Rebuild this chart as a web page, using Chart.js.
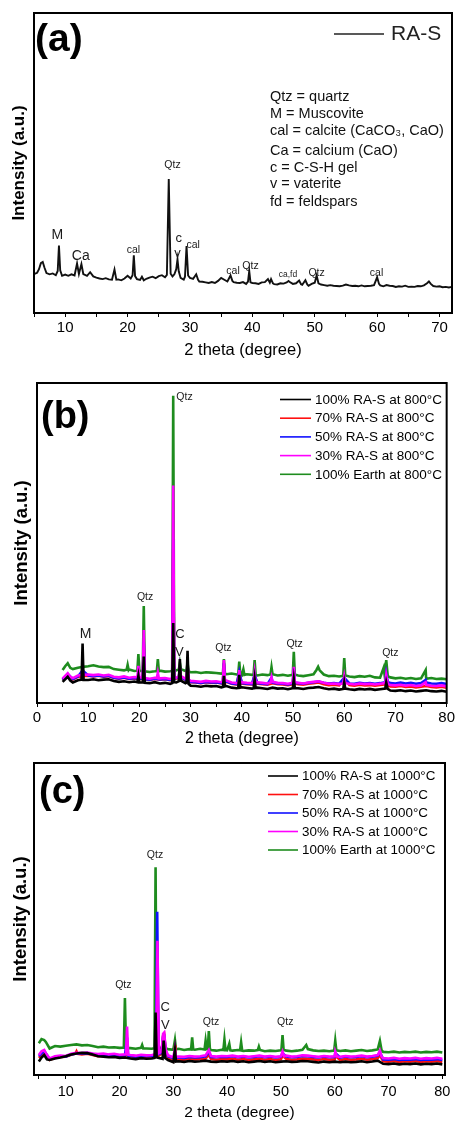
<!DOCTYPE html>
<html><head><meta charset="utf-8">
<script src="https://cdn.jsdelivr.net/npm/chart.js@4.4.1/dist/chart.umd.min.js"></script>
<style>
html,body{margin:0;padding:0;background:#fff;width:457px;height:1122px;overflow:hidden;}
canvas{position:absolute;left:0;}
</style></head><body>
<canvas id="ca" width="457" height="365" style="top:0px"></canvas>
<canvas id="cb" width="457" height="380" style="top:370px"></canvas>
<canvas id="cc" width="457" height="372" style="top:750px"></canvas>
<script>
// ---------------- DATA ----------------
const xTicksA = [5,10,15,20,25,30,35,40,45,50,55,60,65,70];
const xLabelsA = [10,20,30,40,50,60,70];
const xTicksB = [0,5,10,15,20,25,30,35,40,45,50,55,60,65,70,75,80];
const xLabelsB = [0,10,20,30,40,50,60,70,80];
const xTicksC = [5,10,15,20,25,30,35,40,45,50,55,60,65,70,75,80];
const xLabelsC = [10,20,30,40,50,60,70,80];

const legendA = ['RA-S'];
const legendB = ['100% RA-S at 800°C','70% RA-S at 800°C','50% RA-S at 800°C','30% RA-S at 800°C','100% Earth at 800°C'];
const legendC = ['100% RA-S at 1000°C','70% RA-S at 1000°C','50% RA-S at 1000°C','30% RA-S at 1000°C','100% Earth at 1000°C'];

const notesA = ['Qtz = quartz','M = Muscovite','cal = calcite (CaCO\u2083, CaO)','Ca = calcium (CaO)','c = C-S-H gel','v = vaterite','fd = feldspars'];

// peak labels: [text, 2theta, intensity]
const peaksA = [['M',8.74,26],['Ca',12.5,18.8],['cal',20.94,20.8],['Qtz',27.2,49.3],['c',28.2,24.7],['v',28.0,19.9],['cal',30.5,22.7],['cal',36.9,13.8],['Qtz',39.7,15.7],['ca,fd',45.7,12.9],['Qtz',50.3,13.4],['cal',59.9,13.4]];
const peaksB = [['Qtz',28.8,95.5],['Qtz',21.1,33],['M',9.5,21.6],['C',27.9,21.3],['V',27.8,15.8],['Qtz',36.4,17.1],['Qtz',50.3,18.4],['Qtz',69.0,15.7]];
const peaksC = [['Qtz',26.6,70.5],['Qtz',20.7,28.8],['C',28.5,21.6],['V',28.5,16.0],['Qtz',37.0,17.1],['Qtz',50.8,16.9]];

// (a) RA-S  [2theta, intensity]
const rasA = [[5,13.0],[5.5,13.4],[5.8,14.6],[6.1,16.6],[6.4,17.0],[6.7,15.0],[7,13.3],[7.5,12.9],[8,13.2],[8.5,12.6],[8.8,14.0],[9,22.5],[9.2,14.2],[9.5,12.4],[10,12.8],[10.5,12.4],[11,12.9],[11.5,12.5],[11.9,16.5],[12.2,13.0],[12.6,16.3],[12.9,13.0],[13.5,12.4],[14,13.6],[14.5,12.2],[15,11.8],[15.5,11.5],[16,11.3],[16.5,11.6],[17,11.2],[17.5,11.1],[17.9,14.5],[18.2,11.1],[18.5,11.2],[19,10.9],[19.5,11.5],[20,12.4],[20.5,11.5],[20.8,12.6],[21,19.2],[21.2,12.3],[21.5,11.3],[22,11.0],[22.3,12.1],[22.6,10.9],[23,11.4],[23.5,11.8],[24,12.1],[24.5,11.6],[25,12.3],[25.5,12.6],[26,11.9],[26.3,12.7],[26.6,44.7],[26.9,13.1],[27.2,12.2],[27.5,12.9],[27.8,14.6],[28,17.9],[28.2,13.9],[28.5,11.7],[29,11.1],[29.2,12.1],[29.45,22.3],[29.7,12.5],[30,11.7],[30.5,11.4],[31,12.9],[31.3,11.1],[31.5,10.5],[32,10.4],[32.5,10.2],[33,10.0],[33.5,10.3],[34,10.0],[34.5,10.7],[35,11.7],[35.5,11.1],[36,10.5],[36.5,12.5],[36.8,10.7],[37,10.3],[37.5,10.1],[38,10.0],[38.5,10.3],[39,9.7],[39.3,10.5],[39.5,14.0],[39.7,10.2],[40,10.0],[40.5,9.9],[41,9.7],[41.5,10.2],[42,10.3],[42.5,11.3],[42.8,10.1],[43,11.3],[43.3,9.9],[43.5,9.6],[44,9.5],[44.5,9.9],[45,9.8],[45.5,10.2],[45.8,10.7],[46,10.3],[46.5,9.7],[47,9.9],[47.5,10.8],[47.8,9.6],[48,9.4],[48.5,10.9],[48.8,9.5],[49,9.1],[49.5,9.7],[50,10.1],[50.3,12.5],[50.6,9.9],[51,9.5],[51.5,9.3],[52,9.1],[52.5,9.3],[53,9.1],[53.5,9.0],[54,8.9],[54.5,9.1],[55,9.5],[55.5,9.2],[56,9.0],[56.5,9.1],[57,8.9],[57.5,9.2],[58,8.9],[58.5,9.0],[59,9.1],[59.5,9.3],[60,11.9],[60.3,9.7],[60.5,9.2],[61,8.9],[61.5,9.3],[62,9.1],[62.5,9.0],[63,8.7],[63.5,8.9],[64,8.8],[64.5,9.1],[65,8.7],[65.5,8.8],[66,8.7],[66.5,9.0],[67,8.9],[67.5,9.2],[68,9.9],[68.3,10.5],[68.6,9.7],[69,9.0],[69.5,8.8],[70,8.9],[70.5,8.6],[71,8.7],[71.5,8.5],[72,8.7]];

// (b) 800 C
const ras100B = [[5,6.6],[5.5,7.4],[6,8.2],[6.5,7.0],[7,6.4],[8,7.1],[8.7,7.3],[8.9,18.6],[9.1,7.2],[10,7.2],[11,7.4],[12,7.1],[13,7.3],[14,7.4],[15,6.9],[16,6.6],[17,6.8],[18,6.5],[19,6.7],[19.6,6.5],[19.8,8.5],[20,6.4],[20.65,6.4],[20.85,14.5],[21.05,6.3],[22,6.2],[23,6.5],[24,6.1],[25,6.3],[26,6.0],[26.4,6.2],[26.6,25],[26.8,6.5],[27.2,6.4],[27.7,6.8],[27.9,13.7],[28.1,7.0],[29,6.2],[29.2,6.4],[29.4,16.3],[29.6,6.0],[30,5.4],[31,5.3],[32,5.1],[33,5.4],[34,5.2],[35,5.3],[36,4.9],[36.3,5.0],[36.5,8.5],[36.7,5.2],[37,5.3],[38,4.8],[39,4.6],[39.3,4.7],[39.5,8.8],[39.7,4.8],[40,4.9],[41,4.7],[42,4.5],[42.3,4.6],[42.5,7.5],[42.7,4.7],[43,4.8],[44,4.6],[45,4.4],[46,4.8],[47,4.5],[48,4.6],[49,4.3],[49.95,4.6],[50.15,7.5],[50.35,4.7],[51,4.6],[52,4.4],[53,4.7],[54,4.8],[55,5.0],[56,4.6],[57,4.3],[58,4.5],[59,4.2],[59.8,4.4],[60,6.5],[60.2,4.5],[61,4.3],[62,4.1],[63,4.4],[64,4.2],[65,4.4],[66,4.1],[67,4.3],[68,4.5],[68.2,6.5],[68.5,4.4],[69,3.9],[70,3.8],[71,4.0],[72,3.7],[73,3.9],[74,3.6],[75,3.8],[76,4.0],[77,3.7],[78,3.6],[79,3.8],[80,3.5]];
const ras70B = [[5,7.2],[6,8.9],[7,7.4],[8,8.2],[8.7,8.3],[8.9,10],[9.1,8.4],[10,8.5],[11,8.3],[12,8.5],[13,8.2],[14,8.4],[15,7.8],[16,7.6],[17,7.9],[18,7.5],[19,7.7],[20,7.6],[20.65,7.5],[20.85,18],[21.05,7.4],[22,7.2],[23,7.5],[24,7.3],[25,7.4],[26,7.1],[26.4,7.3],[26.6,48],[26.8,7.6],[27.7,7.8],[27.9,10.5],[28.1,8.0],[29,7.2],[29.2,7.4],[29.4,11.5],[29.6,7.0],[30,6.5],[31,6.4],[32,6.2],[33,6.5],[34,6.3],[35,6.4],[36,6.1],[36.3,6.4],[36.5,12],[36.7,6.5],[37,6.6],[38,6.0],[39,5.8],[39.5,9.5],[40,6.1],[41,5.9],[42,5.8],[42.5,8.6],[43,6.1],[44,5.9],[45,5.7],[46,6.2],[47,5.9],[48,5.8],[49,5.6],[49.95,5.9],[50.15,10.4],[50.35,6.1],[51,5.9],[52,5.7],[53,6.0],[54,6.2],[55,6.4],[56,5.9],[57,5.6],[58,5.7],[59,5.5],[60,7.6],[61,5.6],[62,5.4],[63,5.7],[64,5.5],[65,5.6],[66,5.4],[67,5.6],[68,5.8],[68.2,8.2],[68.5,5.6],[69,5.2],[70,5.1],[71,5.3],[72,5.0],[73,5.2],[74,4.9],[75,5.1],[76,5.3],[77,5.0],[78,4.9],[79,5.1],[80,4.8]];
const ras50B = [[5,7.3],[6,9.0],[7,7.5],[8,8.3],[8.9,10.2],[10,8.6],[11,8.4],[12,8.6],[13,8.3],[14,8.5],[15,7.9],[16,7.7],[17,8.0],[18,7.6],[19,7.8],[20,7.7],[20.65,7.6],[20.85,19],[21.05,7.5],[22,7.3],[23,7.6],[24,7.4],[25,7.5],[26,7.2],[26.4,7.4],[26.6,51],[26.8,7.7],[27.7,7.9],[27.9,10.8],[28.1,8.1],[29,7.3],[29.2,7.5],[29.4,11.8],[29.6,7.1],[30,6.6],[31,6.5],[32,6.3],[33,6.6],[34,6.4],[35,6.5],[36,6.2],[36.3,6.5],[36.5,12.5],[36.7,6.6],[37,6.7],[38,6.1],[39,5.9],[39.5,9.8],[40,6.2],[41,6.0],[42,5.9],[42.5,9.0],[43,6.2],[44,6.0],[45,5.9],[45.8,7.9],[46,6.4],[47,6.1],[48,6.0],[49,5.8],[49.95,6.1],[50.15,10.8],[50.35,6.3],[51,6.2],[52,6.0],[53,6.3],[54,6.5],[55,6.7],[56,6.3],[57,6.1],[58,6.2],[59,6.0],[60,7.9],[61,6.1],[62,6.0],[63,6.3],[64,6.1],[65,6.2],[66,6.0],[67,6.2],[68,6.5],[68.2,9.2],[68.5,6.6],[69,6.2],[70,6.1],[71,6.4],[72,6.1],[73,6.3],[74,6.0],[75,6.2],[75.9,7.2],[76,6.4],[77,6.1],[78,6.0],[79,6.2],[80,5.9]];
const ras30B = [[5,7.6],[5.5,8.5],[6,9.3],[6.5,8.2],[7,7.8],[8,8.6],[8.7,8.7],[8.9,10.5],[9.1,8.8],[10,8.9],[11,8.7],[12,8.9],[13,8.6],[14,8.8],[15,8.2],[16,8.0],[17,8.3],[18,7.9],[19,8.1],[19.6,8.0],[19.8,11.6],[20,8.0],[20.65,7.9],[20.85,22.8],[21.05,7.8],[22,7.6],[23,7.9],[23.4,7.8],[23.6,9.5],[23.8,7.7],[24,7.7],[25,7.8],[26,7.5],[26.4,7.7],[26.6,68],[26.8,8.0],[27.2,7.9],[27.7,8.2],[27.9,11],[28.1,8.4],[29,7.6],[29.2,7.8],[29.4,12],[29.6,7.4],[30,6.9],[31,6.8],[32,6.6],[33,6.9],[34,6.7],[35,6.8],[36,6.5],[36.3,6.8],[36.5,13.4],[36.7,6.9],[37,7.0],[38,6.4],[39,6.2],[39.3,6.4],[39.5,10.3],[39.7,6.4],[40,6.5],[41,6.3],[42,6.2],[42.3,6.3],[42.5,9.3],[42.7,6.4],[43,6.5],[44,6.3],[45,6.1],[45.6,6.4],[45.8,8.0],[46,6.6],[47,6.3],[48,6.2],[49,6.0],[49.95,6.3],[50.15,11.3],[50.35,6.5],[51,6.3],[52,6.1],[53,6.4],[54,6.6],[55,6.8],[56,6.3],[57,6.0],[58,6.1],[59,5.9],[59.8,6.1],[60,8.2],[60.2,6.2],[61,6.0],[62,5.8],[63,6.1],[64,5.9],[65,6.0],[66,5.8],[67,6.0],[68,6.2],[68.2,8.75],[68.5,6.0],[69,5.6],[70,5.5],[71,5.7],[72,5.4],[73,5.6],[74,5.3],[75,5.5],[75.9,6.5],[76,5.7],[77,5.4],[78,5.3],[79,5.5],[80,5.2]];
const earthB = [[5,10.3],[5.5,11.5],[6,12.4],[6.5,11.0],[7,10.6],[8,11.0],[9,11.3],[10,11.5],[11,11.8],[12,11.4],[13,11.2],[14,11.3],[15,10.6],[16,10.4],[17,10.2],[17.5,10.4],[17.7,11.9],[17.9,10.3],[18,10.5],[19,10.0],[19.6,10.1],[19.8,15.3],[20,10.0],[20.65,10.0],[20.85,30.3],[21.05,9.9],[22,9.7],[23,9.9],[23.4,10.0],[23.6,13.7],[23.8,9.9],[24,10.1],[25,9.8],[26,9.9],[26.4,10.0],[26.6,96],[26.8,10.4],[27.2,10.2],[27.7,10.5],[27.9,12.5],[28.1,10.6],[29,10.0],[29.2,10.2],[29.4,12.5],[29.6,9.9],[30,9.6],[31,9.7],[32,9.4],[33,9.6],[34,9.5],[35,9.4],[36,9.2],[36.3,9.3],[36.5,13.7],[36.7,9.2],[37,9.0],[38,9.2],[39,8.9],[39.3,9.0],[39.5,12.9],[39.7,9.0],[40,8.7],[40.3,10.5],[40.5,8.8],[41,9.0],[42,8.8],[42.3,8.9],[42.5,13.4],[42.7,8.8],[43,8.6],[44,8.9],[45,8.7],[45.6,8.9],[45.8,11.2],[46,9.0],[47,8.6],[48,8.8],[49,8.5],[49.95,8.8],[50.15,16],[50.35,8.9],[51,8.6],[52,8.4],[53,8.7],[54,9.0],[54.6,10.4],[54.9,11.3],[55.2,10.2],[56,8.9],[57,8.4],[58,8.5],[59,8.3],[59.8,8.5],[60,14],[60.2,8.6],[61,8.3],[62,8.1],[63,8.4],[64,8.2],[65,8.5],[66,8.0],[67,7.9],[67.7,11.0],[67.9,8.6],[68.2,13.4],[68.5,8.4],[69,8.0],[70,7.7],[71,7.9],[72,7.6],[73,7.8],[74,7.5],[75,7.7],[75.9,10.3],[76,7.6],[77,7.8],[78,7.5],[79,7.6],[80,7.4]];

// (c) 1000 C
const ras100C = [[5,4.3],[5.5,5.6],[6,6.4],[6.5,5.0],[7,4.8],[8,5.3],[9,5.6],[10,6.0],[11,6.6],[12,6.9],[13,7.1],[14,7.0],[15,6.6],[16,6.0],[17,5.9],[18,5.7],[19,5.8],[20,5.5],[21,5.6],[22,5.3],[23,5.1],[24,5.4],[25,5.2],[26,5.3],[26.5,5.5],[26.7,20],[26.9,5.7],[27,5.6],[28,5.2],[28.2,11],[28.5,5.4],[29,4.8],[30,4.1],[30.3,8],[30.5,4.3],[31,4.4],[32,4.2],[33,4.5],[34,4.3],[35,4.4],[36,4.6],[37,4.3],[38,4.2],[39,4.4],[40,4.3],[41,4.5],[42,4.2],[43,4.4],[44,4.1],[45,4.3],[46,4.5],[47,4.2],[48,4.4],[49,4.1],[50,4.3],[51,4.4],[52,4.2],[53,4.3],[54,4.5],[55,4.4],[56,4.2],[57,4.0],[58,4.3],[59,4.1],[60,4.3],[61,4.1],[62,4.3],[63,4.1],[64,4.2],[65,4.4],[66,4.1],[67,4.3],[68,4.6],[69,3.6],[70,3.5],[71,3.7],[72,3.4],[73,3.6],[74,3.5],[75,3.7],[76,3.4],[77,3.6],[78,3.5],[79,3.7],[80,3.4]];
const ras70C = [[5,5.5],[6,7.2],[7,4.8],[8,5.5],[9,5.8],[10,5.9],[11,6.5],[11.8,6.9],[12,7.6],[12.2,6.8],[13,6.6],[14,6.8],[15,6.4],[16,6.0],[17,6.2],[18,5.9],[19,6.0],[20,5.7],[21,5.8],[21.4,9.0],[21.6,5.7],[22,5.6],[23,5.4],[24,5.7],[25,5.5],[26,5.6],[26.8,5.8],[27.0,35],[27.25,6.2],[27.8,6.8],[28.1,12.6],[28.3,13.0],[28.6,7.4],[29,5.4],[30,4.3],[30.2,5.0],[30.35,9.6],[30.5,4.8],[31,5.0],[32,4.9],[33,5.2],[34,5.0],[35,5.1],[36,5.3],[36.6,6.5],[37,5.1],[38,4.9],[39,5.1],[40,5.0],[41,5.2],[42,4.9],[43,5.1],[44,4.8],[45,5.0],[46,5.2],[47,4.9],[48,5.1],[49,4.8],[50,5.0],[50.3,6.2],[51,5.1],[52,4.9],[53,5.0],[54,5.3],[55,5.2],[56,5.0],[57,4.8],[58,5.1],[59,4.9],[60,5.0],[60.1,6.2],[61,4.8],[62,5.1],[63,4.9],[64,5.0],[65,5.2],[66,4.9],[67,5.1],[68,5.4],[68.4,6.4],[69,4.4],[70,4.3],[71,4.5],[72,4.2],[73,4.4],[74,4.3],[75,4.5],[76,4.2],[77,4.4],[78,4.3],[79,4.5],[80,4.2]];
const ras50C = [[5,6.1],[6,7.7],[7,5.1],[8,5.8],[9,6.0],[10,5.9],[11,6.6],[12,6.9],[13,6.8],[14,7.0],[15,6.7],[16,6.4],[17,6.6],[18,6.3],[19,6.5],[20,6.2],[21,6.3],[21.4,12.0],[21.6,6.2],[22,6.1],[23,5.9],[24,6.2],[25,6.0],[26,6.1],[26.75,6.3],[27.0,52.3],[27.25,6.7],[27.8,7.1],[28.1,12.3],[28.3,12.5],[28.6,7.6],[29,6.0],[30,5.4],[31,5.6],[32,5.5],[33,5.8],[34,5.6],[35,5.7],[36,6.0],[36.6,7.5],[37,5.8],[38,5.7],[39,5.9],[40,5.8],[41,6.0],[42,5.7],[43,5.9],[44,5.6],[45,5.8],[46,6.0],[47,5.7],[48,5.9],[49,5.6],[50,5.8],[50.3,7.0],[51,5.9],[52,5.7],[53,5.8],[54,6.1],[55,6.0],[56,5.8],[57,5.6],[58,5.9],[59,5.7],[60,5.8],[60.1,7.0],[61,5.6],[62,5.9],[63,5.7],[64,5.8],[65,6.0],[66,5.7],[67,5.9],[68,6.2],[68.4,7.3],[69,5.0],[70,4.9],[71,5.1],[72,4.8],[73,5.0],[74,4.9],[75,5.1],[76,4.8],[77,5.0],[78,4.9],[79,5.1],[80,4.8]];
const ras30C = [[5,6.4],[5.5,7.6],[6,8.0],[6.3,7.0],[7,5.3],[8,6.0],[9,6.2],[10,6.1],[11,6.8],[12,7.1],[13,7.0],[14,7.2],[15,6.9],[16,6.7],[17,6.9],[18,6.6],[19,6.8],[20,6.5],[21,6.6],[21.2,6.7],[21.4,15.5],[21.6,6.5],[22,6.4],[23,6.2],[24,6.5],[25,6.3],[26,6.4],[26.8,6.6],[27.05,43],[27.3,7.0],[27.8,7.4],[28.1,13.2],[28.3,13.6],[28.6,8.0],[29,6.3],[30,5.7],[30.3,8.5],[30.5,5.8],[31,5.9],[32,5.8],[33,6.1],[34,5.9],[35,6.0],[36,6.3],[36.6,8.0],[37,6.1],[38,5.9],[39,6.1],[40,6.0],[41,6.2],[42,5.9],[43,6.1],[44,5.8],[45,6.0],[46,6.2],[47,5.9],[48,6.1],[49,5.8],[50,6.0],[50.3,7.5],[50.6,6.0],[51,6.2],[52,5.9],[53,6.0],[54,6.3],[55,6.2],[56,6.0],[57,5.8],[58,6.1],[59,5.9],[60,6.0],[60.1,7.5],[60.4,6.0],[61,5.8],[62,6.1],[63,5.9],[64,6.0],[65,6.2],[66,5.9],[67,6.1],[68,6.4],[68.4,7.8],[68.7,6.0],[69,5.4],[70,5.3],[71,5.5],[72,5.2],[73,5.4],[74,5.3],[75,5.5],[76,5.2],[77,5.4],[78,5.3],[79,5.5],[80,5.2]];
const earthC = [[5,10.2],[5.5,11.5],[6,11.2],[6.3,10.6],[7,8.5],[8,9.3],[9,9.1],[10,9.4],[11,9.6],[12,9.8],[13,9.5],[14,9.6],[15,9.3],[16,8.9],[17,9.1],[18,8.8],[19,8.9],[20,8.7],[20.8,8.8],[21.0,24.7],[21.2,8.7],[22,8.6],[23,8.4],[24,8.7],[24.2,9.6],[24.4,8.5],[25,8.5],[26,8.4],[26.5,8.6],[26.7,66.6],[26.9,8.9],[27,8.9],[28,8.6],[28.3,10.0],[28.6,8.5],[29,8.3],[30,8.1],[30.3,11.2],[30.5,8.2],[31,8.4],[32,8.0],[33,8.3],[33.3,8.2],[33.5,12.1],[33.7,8.2],[34,8.1],[35,8.4],[35.8,8.2],[36.0,11.0],[36.2,8.3],[36.4,8.4],[36.6,14.1],[36.8,8.3],[37,8.0],[38,7.8],[39,8.1],[39.3,8.0],[39.5,11.4],[39.7,8.0],[40,7.9],[40.4,10.0],[40.6,7.9],[41,7.8],[42,8.0],[42.4,7.9],[42.6,10.5],[42.8,7.8],[43,7.7],[44,7.9],[45,7.8],[45.7,8.0],[45.9,9.1],[46.1,8.0],[47,7.6],[48,7.8],[49,7.7],[50,7.9],[50.1,8.3],[50.3,12.8],[50.5,8.1],[51,7.8],[52,7.6],[53,7.8],[54,8.1],[54.7,9.6],[55,8.3],[56,7.9],[57,7.7],[58,7.8],[59,7.6],[59.9,7.8],[60.1,11.0],[60.3,7.9],[61,7.7],[62,7.9],[63,7.6],[64,7.8],[65,8.0],[66,7.7],[67,7.9],[68,8.2],[68.4,10.9],[68.7,8.0],[69,7.4],[70,7.3],[71,7.5],[72,7.2],[73,7.4],[74,7.3],[75,7.5],[76,7.2],[77,7.4],[78,7.3],[79,7.5],[80,7.2]];

// ---------------- STYLE / LAYOUT ----------------
const FONT = '"Liberation Sans", Arial, Helvetica, sans-serif';
const seriesColors = ['#000000','#ff1010','#1010ff','#ff00ff','#1e8c1e'];
const drawOrder = [0,3,2,1,4]; // lower = drawn on top
const peakFont = {'M':14,'Ca':14,'c':13,'v':13,'C':13,'V':13,'ca,fd':8.5};

function pts(a){ return a.map(p => ({x:p[0], y:p[1]})); }

const decor = {
  id: 'decor',
  afterDatasetsDraw(chart, args, o) {
    const ctx = chart.ctx, xs = chart.scales.x, ys = chart.scales.y;
    ctx.save();
    ctx.textAlign = 'center'; ctx.textBaseline = 'middle'; ctx.fillStyle = '#1a1a1a';
    (o.peaks || []).forEach(p => {
      ctx.font = `${peakFont[p[0]] || 10.5}px ${FONT}`;
      ctx.fillText(p[0], xs.getPixelForValue(p[1]), ys.getPixelForValue(p[2]));
    });
    ctx.restore();
  },
  afterDraw(chart, args, o) {
    const ctx = chart.ctx; const ca = chart.chartArea;
    ctx.save();
    ctx.strokeStyle = '#000'; ctx.lineWidth = 2;
    ctx.strokeRect(ca.left, ca.top, ca.right - ca.left, ca.bottom - ca.top);
    ctx.fillStyle = '#000'; ctx.textAlign = 'left'; ctx.textBaseline = 'middle';
    ctx.font = `bold ${o.panel.size}px ${FONT}`;
    ctx.fillText(o.panel.text, o.panel.x, o.panel.y);
    const L = o.legend;
    ctx.font = `${L.size}px ${FONT}`;
    L.labels.forEach((t, i) => {
      const y = L.y + i * L.dy;
      ctx.strokeStyle = L.colors[i]; ctx.lineWidth = 1.6;
      ctx.beginPath(); ctx.moveTo(L.x1, y); ctx.lineTo(L.x2, y); ctx.stroke();
      ctx.fillStyle = L.textColor || '#000';
      ctx.fillText(t, L.tx, y + 0.5);
    });
    if (o.notes) {
      ctx.fillStyle = '#111'; ctx.font = `${o.notes.size}px ${FONT}`;
      o.notes.lines.forEach((t, i) => ctx.fillText(t, o.notes.x, o.notes.ys[i]));
    }
    ctx.restore();
  }
};

function makeChart(id, cfg) {
  return new Chart(document.getElementById(id), {
    type: 'line',
    data: { datasets: cfg.series.map((s, i) => ({
      label: cfg.legend.labels[i], data: pts(s), borderColor: cfg.colors[i],
      borderWidth: cfg.lw, pointRadius: 0, tension: 0, fill: false,
      order: cfg.orders ? cfg.orders[i] : 0
    })) },
    options: {
      responsive: false, animation: false, devicePixelRatio: 1, events: [],
      layout: { padding: { top: cfg.padTop, right: cfg.padRight, left: 0, bottom: 0 } },
      plugins: {
        legend: { display: false }, tooltip: { enabled: false },
        decor: { peaks: cfg.peaks, panel: cfg.panel, legend: cfg.legend, notes: cfg.notes }
      },
      scales: {
        x: {
          type: 'linear', min: cfg.xmin, max: cfg.xmax,
          afterBuildTicks: s => { s.ticks = cfg.ticks.map(v => ({ value: v })); },
          afterFit: s => { s.height = cfg.xh; },
          ticks: { autoSkip: false, maxRotation: 0, minRotation: 0, color: '#000',
                   font: { family: FONT, size: cfg.tickSize }, padding: cfg.tickPad,
                   callback: v => cfg.labels.includes(v) ? String(v) : '' },
          grid: { display: true, drawOnChartArea: false, drawTicks: true, tickLength: 4, color: '#000', lineWidth: 1 },
          border: { display: true, color: '#000', width: 2 },
          title: { display: true, text: '2 theta (degree)', color: '#000',
                   font: { family: FONT, size: cfg.xtSize }, padding: { top: 0, bottom: cfg.xtPad } }
        },
        y: {
          min: 0, max: 100,
          afterFit: s => { s.width = cfg.yw; },
          ticks: { display: false },
          grid: { display: false },
          border: { display: true, color: '#000', width: 2 },
          title: { display: true, text: 'Intensity (a.u.)', color: '#000',
                   font: { family: FONT, size: cfg.ytSize, weight: 'bold' }, padding: { top: cfg.ytPad, bottom: 0 } }
        }
      }
    },
    plugins: [decor]
  });
}

makeChart('ca', {
  series: [rasA], colors: ['#111111'], lw: 1.9,
  padTop: 13, padRight: 5, xmin: 5, xmax: 72, ticks: xTicksA, labels: xLabelsA,
  xh: 52, tickSize: 15, tickPad: 2, xtSize: 16.5, xtPad: 5,
  yw: 34, ytSize: 17, ytPad: 9,
  peaks: peaksA,
  panel: { text: '(a)', x: 35, y: 40, size: 39 },
  legend: { labels: legendA, colors: ['#222'], x1: 334, x2: 384, y: 34, dy: 0, tx: 391, size: 21, textColor: '#222' },
  notes: { lines: notesA, x: 270, ys: [97,113.5,131,151,167.5,184,201.5], size: 14.5 }
});

makeChart('cb', {
  series: [ras100B, ras70B, ras50B, ras30B, earthB], colors: seriesColors, orders: drawOrder, lw: 2.6,
  padTop: 13, padRight: 7, xmin: 0, xmax: 80, ticks: xTicksB, labels: xLabelsB,
  xh: 47, tickSize: 15, tickPad: 2, xtSize: 16, xtPad: 2,
  yw: 37, ytSize: 18.5, ytPad: 11,
  peaks: peaksB,
  panel: { text: '(b)', x: 41, y: 48, size: 38 },
  legend: { labels: legendB, colors: seriesColors, x1: 280, x2: 311, y: 29.5, dy: 18.7, tx: 315, size: 13.5 }
});

makeChart('cc', {
  series: [ras100C, ras70C, ras50C, ras30C, earthC], colors: seriesColors, orders: drawOrder, lw: 2.6,
  padTop: 13, padRight: 12, xmin: 4.1, xmax: 80.5, ticks: xTicksC, labels: xLabelsC,
  xh: 47, tickSize: 14.5, tickPad: 4, xtSize: 15.5, xtPad: 0,
  yw: 34, ytSize: 18.5, ytPad: 10,
  peaks: peaksC,
  panel: { text: '(c)', x: 39, y: 43, size: 38 },
  legend: { labels: legendC, colors: seriesColors, x1: 268, x2: 298, y: 26, dy: 18.5, tx: 302, size: 13.4 }
});
</script>
</body></html>
